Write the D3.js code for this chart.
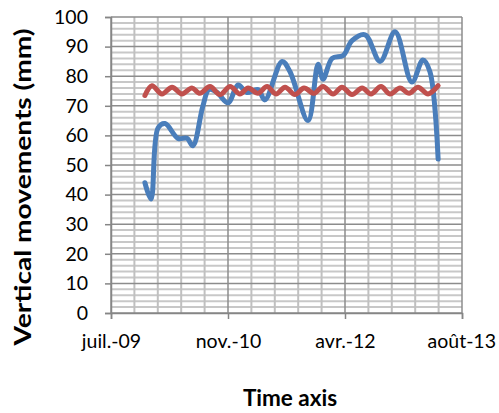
<!DOCTYPE html>
<html>
<head>
<meta charset="utf-8">
<script src="https://cdn.jsdelivr.net/npm/d3@7"></script>
<style>
  body { margin: 0; background: #fff; }
  text { font-family: Lato, "Open Sans", sans-serif; fill: #000; }
</style>
</head>
<body>
<svg id="chart" width="499" height="413"></svg>
<script>
// measured series (blue = vertical movements, red = reference)
const blueDates = ['2009-11-28', '2009-12-24', '2010-01-23', '2010-02-22', '2010-04-18', '2010-05-27',
  '2010-06-21', '2010-08-03', '2010-08-29', '2010-10-02', '2010-11-18', '2010-12-31', '2011-02-07',
  '2011-03-26', '2011-04-25', '2011-07-07', '2011-08-10', '2011-10-26', '2011-12-08', '2011-12-29',
  '2012-02-06', '2012-03-24', '2012-05-01', '2012-06-26', '2012-08-29', '2012-11-01', '2013-01-12',
  '2013-02-28', '2013-03-30', '2013-05-04'];
const blueValues = [44, 38.5, 62.5, 64, 59, 59, 56.5, 70, 75.5, 74.5, 71, 77, 74.5, 75.5, 72, 85, 81.5,
  65, 84, 79, 86, 87, 92, 94, 85, 95, 78, 85.5, 81.5, 52];

const redDates = ['2009-11-28', '2009-12-28', '2010-02-09', '2010-03-24', '2010-05-05', '2010-06-17',
  '2010-07-21', '2010-09-02', '2010-10-15', '2010-11-27', '2011-01-08', '2011-02-12', '2011-03-26',
  '2011-05-04', '2011-06-11', '2011-07-20', '2011-08-31', '2011-10-09', '2011-11-21', '2011-12-29',
  '2012-02-10', '2012-03-19', '2012-05-01', '2012-06-13', '2012-07-21', '2012-09-02', '2012-10-10',
  '2012-11-22', '2012-12-31', '2013-02-07', '2013-03-22', '2013-05-04'];
const redValues = [73.5, 76.8, 74, 76.3, 74, 76, 74.2, 76.5, 73.8, 76.5, 74, 76, 74.2, 76.5, 74, 76.3,
  73.8, 76, 74.2, 76.5, 74, 76.3, 73.8, 76, 74, 76.5, 74, 76, 74.2, 76.3, 74, 76.8];

const xTickDates = ['2009-07-06', '2010-11-18', '2012-04-01', '2013-08-14'];
const yTicks = [0, 10, 20, 30, 40, 50, 60, 70, 80, 90, 100];

const parse = d3.timeParse('%Y-%m-%d');
const fr = d3.timeFormatLocale({
  dateTime: '%A %e %B %Y à %X', date: '%d/%m/%Y', time: '%H:%M:%S', periods: ['AM', 'PM'],
  days: ['dimanche', 'lundi', 'mardi', 'mercredi', 'jeudi', 'vendredi', 'samedi'],
  shortDays: ['dim.', 'lun.', 'mar.', 'mer.', 'jeu.', 'ven.', 'sam.'],
  months: ['janvier', 'février', 'mars', 'avril', 'mai', 'juin', 'juillet', 'août', 'septembre', 'octobre', 'novembre', 'décembre'],
  shortMonths: ['janv.', 'févr.', 'mars', 'avr.', 'mai', 'juin', 'juil.', 'août', 'sept.', 'oct.', 'nov.', 'déc.']
});
const fmt = fr.format('%b-%y');

const svg = d3.select('#chart');
const mLeft = 111, mRight = 462, mTop = 17, mBottom = 313;

const xTicks = xTickDates.map(parse);
const x = d3.scaleTime().domain([xTicks[0], xTicks[xTicks.length - 1]]).range([mLeft, mRight]);
const y = d3.scaleLinear().domain([0, 100]).range([mBottom, mTop]);

// minor grid: every 2 mm and every 100 days
const minorY = d3.range(0, 101, 2).filter(v => v % 10 !== 0);
const minorX = d3.range(1, 15).filter(i => i % 5 !== 0).map(i => d3.timeDay.offset(xTicks[0], i * 100));

const grid = svg.append('g');
grid.selectAll('.minor-y').data(minorY).join('line')
  .attr('x1', mLeft).attr('x2', mRight)
  .attr('y1', d => y(d)).attr('y2', d => y(d))
  .attr('stroke', '#c8c8c8').attr('stroke-width', 2);
grid.selectAll('.minor-x').data(minorX).join('line')
  .attr('x1', d => x(d)).attr('x2', d => x(d))
  .attr('y1', mTop).attr('y2', mBottom)
  .attr('stroke', '#c0c0c0').attr('stroke-width', 2);
grid.selectAll('.major-y').data(yTicks).join('line')
  .attr('x1', mLeft).attr('x2', mRight)
  .attr('y1', d => y(d)).attr('y2', d => y(d))
  .attr('stroke', '#8c8c8c').attr('stroke-width', 1.5);
grid.selectAll('.major-x').data(xTicks).join('line')
  .attr('x1', d => x(d)).attr('x2', d => x(d))
  .attr('y1', mTop).attr('y2', mBottom)
  .attr('stroke', '#8c8c8c').attr('stroke-width', 1.5);

// axes
const yAxis = svg.append('g').attr('transform', `translate(${mLeft},0)`)
  .call(d3.axisLeft(y).tickValues(yTicks).tickSize(6).tickPadding(17));
const xAxis = svg.append('g').attr('transform', `translate(0,${mBottom})`)
  .call(d3.axisBottom(x).tickValues(xTicks).tickFormat(fmt).tickSize(6).tickPadding(15));
[yAxis, xAxis].forEach(a => {
  a.select('.domain').attr('stroke', '#868686').attr('stroke-width', 1.5);
  a.selectAll('.tick line').attr('stroke', '#868686').attr('stroke-width', 1.5);
  a.selectAll('text').attr('font-size', 19.5).attr('font-family', 'Lato, sans-serif');
});
// keep the last label inside the picture
xAxis.selectAll('.tick text').each(function () {
  const w = this.getComputedTextLength();
  const cx = +d3.select(this.parentNode).attr('transform').match(/translate\(([\d.]+)/)[1];
  if (cx + w / 2 > 496) d3.select(this).attr('dx', 496 - (cx + w / 2));
});

// series
const line = d3.line().x(d => x(d[0])).y(d => y(d[1])).curve(d3.curveCatmullRom.alpha(0.5));
const blue = blueDates.map((d, i) => [parse(d), blueValues[i]]);
const red = redDates.map((d, i) => [parse(d), redValues[i]]);

svg.append('path').datum(blue).attr('d', line)
  .attr('fill', 'none').attr('stroke', '#4a7ebb').attr('stroke-width', 5)
  .attr('stroke-linecap', 'round').attr('stroke-linejoin', 'round');
svg.append('path').datum(red).attr('d', line)
  .attr('fill', 'none').attr('stroke', '#c0504d').attr('stroke-width', 5)
  .attr('stroke-linecap', 'round').attr('stroke-linejoin', 'round');

// titles
svg.append('text').attr('x', 290).attr('y', 406).attr('text-anchor', 'middle')
  .attr('font-size', 22.5).attr('font-weight', 'bold').text('Time axis');
svg.append('text').attr('transform', 'translate(31,187) rotate(-90)').attr('text-anchor', 'middle')
  .attr('font-size', 22).attr('font-weight', 'bold')
  .attr('textLength', 317).attr('lengthAdjust', 'spacingAndGlyphs')
  .text('Vertical movements (mm)');
</script>
</body>
</html>
